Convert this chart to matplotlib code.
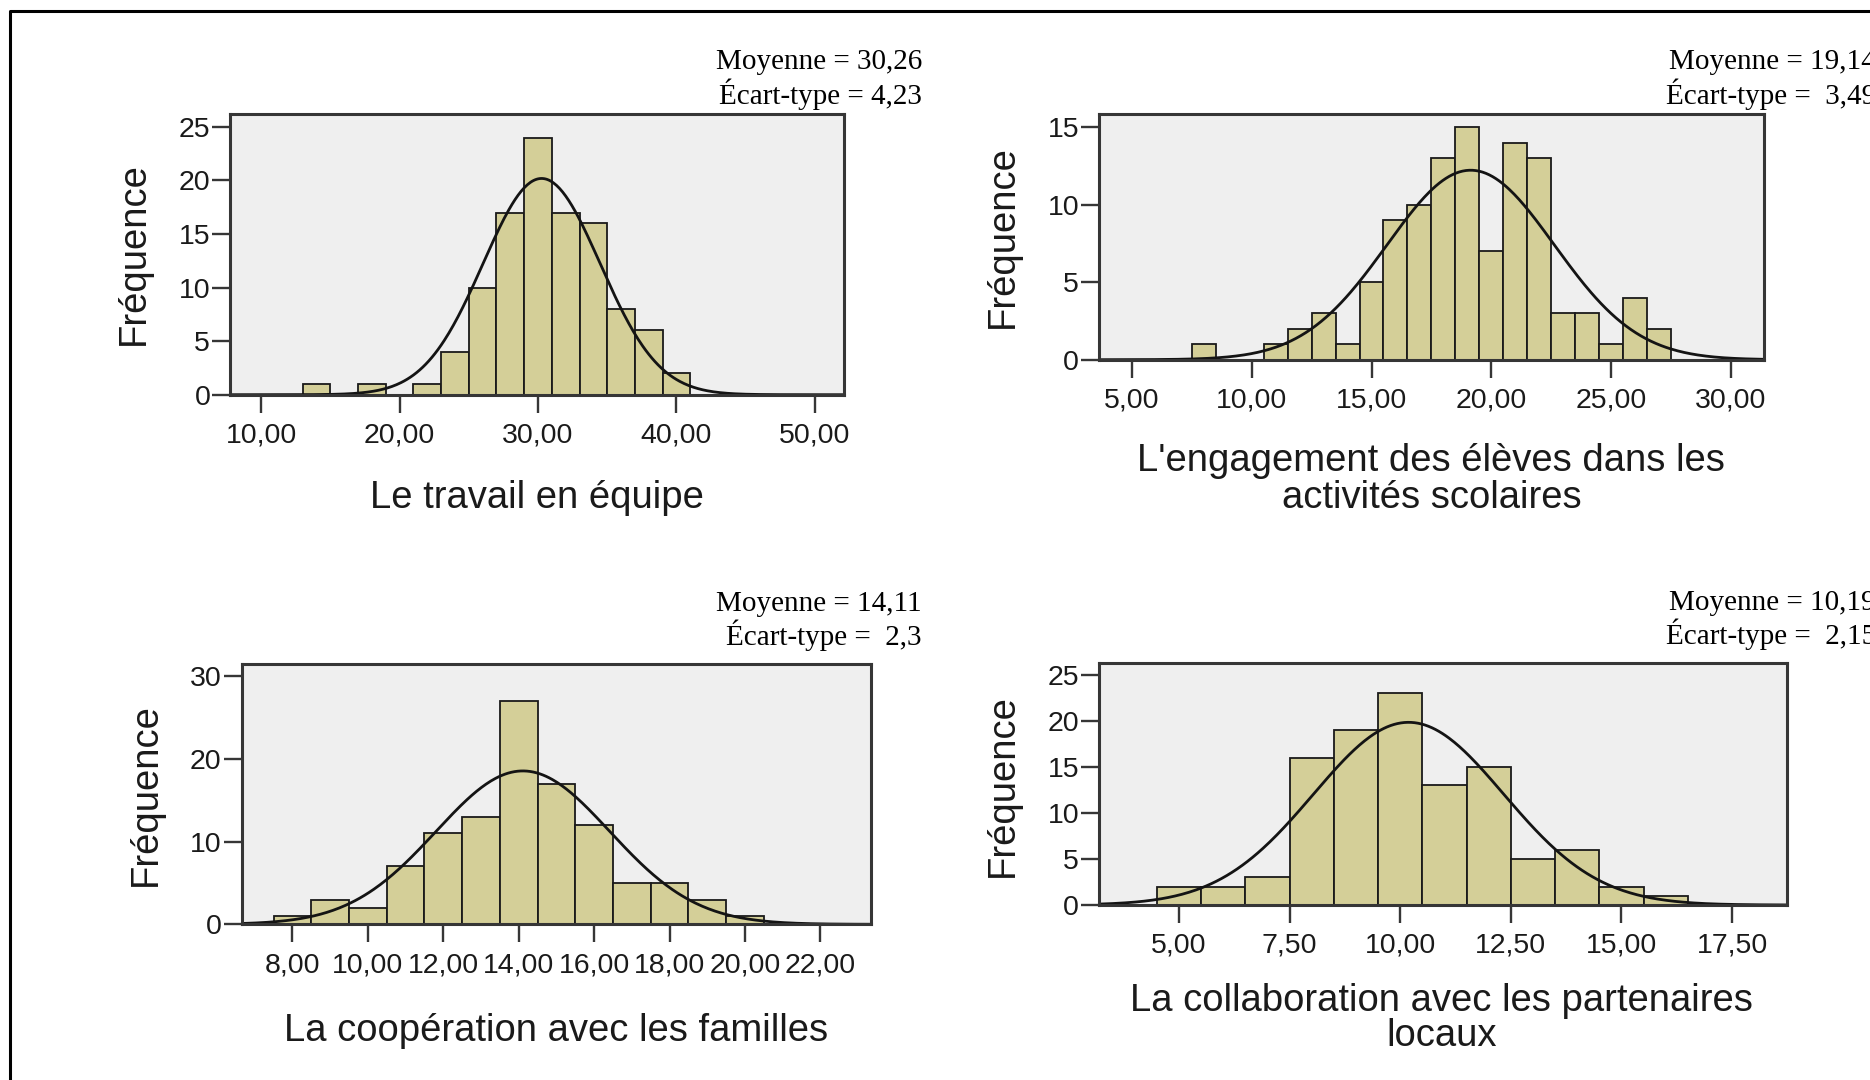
import numpy as np
import matplotlib
matplotlib.use("Agg")
import matplotlib.pyplot as plt
from matplotlib.lines import Line2D

plt.rcParams['font.family'] = ['Liberation Sans', 'DejaVu Sans']

W, H = 1870, 1080

# --- data (n = 107 each) ---
n_obs = 107

travail_centers = [14, 18, 22, 24, 26, 28, 30, 32, 34, 36, 38, 40]
travail_counts = [1, 1, 1, 4, 10, 17, 24, 17, 16, 8, 6, 2]
travail_width = 2
travail_mean, travail_sd = 30.26, 4.23

engagement_centers = [8, 11, 12, 13, 14, 15, 16, 17, 18, 19, 20, 21, 22, 23, 24, 25, 26, 27]
engagement_counts = [1, 1, 2, 3, 1, 5, 9, 10, 13, 15, 7, 14, 13, 3, 3, 1, 4, 2]
engagement_width = 1
engagement_mean, engagement_sd = 19.14, 3.49

familles_centers = [8, 9, 10, 11, 12, 13, 14, 15, 16, 17, 18, 19, 20]
familles_counts = [1, 3, 2, 7, 11, 13, 27, 17, 12, 5, 5, 3, 1]
familles_width = 1
familles_mean, familles_sd = 14.11, 2.3

partenaires_centers = [5, 6, 7, 8, 9, 10, 11, 12, 13, 14, 15, 16]
partenaires_counts = [2, 2, 3, 16, 19, 23, 13, 15, 5, 6, 2, 1]
partenaires_width = 1
partenaires_mean, partenaires_sd = 10.19, 2.15

travail_xticks = [10, 20, 30, 40, 50]
engagement_xticks = [5, 10, 15, 20, 25, 30]
familles_xticks = [8, 10, 12, 14, 16, 18, 20, 22]
partenaires_xticks = [5, 7.5, 10, 12.5, 15, 17.5]

travail_yticks = [0, 5, 10, 15, 20, 25]
engagement_yticks = [0, 5, 10, 15]
familles_yticks = [0, 10, 20, 30]
partenaires_yticks = [0, 5, 10, 15, 20, 25]

stats_labels = [("Moyenne = 30,26", "Écart-type = 4,23"),
                ("Moyenne = 19,14", "Écart-type =  3,49"),
                ("Moyenne = 14,11", "Écart-type =  2,3"),
                ("Moyenne = 10,19", "Écart-type =  2,15")]

BAR = "#D4CF98"
BG = "#EFEFEF"
FRAME = "#363636"


def fx(x):
    return x / W


def fy(y):
    return 1 - y / H


def draw_hist(fig, rect, centers, counts, width, mean, sd, xlim, ylim, xticks, yticks):
    x0, x1, top, bot = rect
    ax = fig.add_axes([fx(x0), fy(bot), (x1 - x0) / W, (bot - top) / H])
    ax.set_facecolor(BG)
    ax.bar(centers, counts, width=width, color=BAR, edgecolor="#1a1a1a", linewidth=1.3)
    # normal curve from the mean and sd printed on the chart
    xs = np.linspace(xlim[0], xlim[1], 400)
    curve = n_obs * width * np.exp(-0.5 * ((xs - mean) / sd) ** 2) / (sd * np.sqrt(2 * np.pi))
    ax.plot(xs, curve, color="#141414", linewidth=2.0)
    ax.set_xlim(xlim)
    ax.set_ylim(ylim)
    ax.set_xticks(xticks)
    ax.set_xticklabels([f"{v:.2f}".replace(".", ",") for v in xticks])
    ax.set_yticks(yticks)
    ax.set_yticklabels([str(v) for v in yticks])
    for s in ax.spines.values():
        s.set_color(FRAME)
        s.set_linewidth(2.2)
    ax.tick_params(direction="out", length=13, width=1.7, color=FRAME, labelsize=20.5,
                   labelcolor="#1a1a1a")
    ax.tick_params(axis="x", pad=7)
    ax.tick_params(axis="y", pad=1.5)
    return ax


fig = plt.figure(figsize=(18.7, 10.8), dpi=100)

draw_hist(fig, (230.4, 844.2, 114, 394.7), travail_centers, travail_counts, travail_width,
          travail_mean, travail_sd, (7.77, 52.13), (0, 26.2), travail_xticks, travail_yticks)
draw_hist(fig, (1099.2, 1764.3, 114, 359.7), engagement_centers, engagement_counts, engagement_width,
          engagement_mean, engagement_sd, (3.63, 31.4), (0, 15.86), engagement_xticks, engagement_yticks)
draw_hist(fig, (241.5, 871, 664, 924.3), familles_centers, familles_counts, familles_width,
          familles_mean, familles_sd, (6.65, 23.34), (0, 31.5), familles_xticks, familles_yticks)
draw_hist(fig, (1099.2, 1787, 663.3, 905), partenaires_centers, partenaires_counts, partenaires_width,
          partenaires_mean, partenaires_sd, (3.2, 18.74), (0, 26.27), partenaires_xticks, partenaires_yticks)

# x labels
lab = dict(fontsize=27.5, color="#1a1a1a", ha="center", va="baseline")
fig.text(fx(537), fy(508), "Le travail en équipe", **lab)
fig.text(fx(1431), fy(471), "L'engagement des élèves dans les", **lab)
fig.text(fx(1432), fy(508), "activités scolaires", **lab)
fig.text(fx(556), fy(1041), "La coopération avec les familles", **lab)
fig.text(fx(1441), fy(1011), "La collaboration avec les partenaires", **lab)
fig.text(fx(1442), fy(1046), "locaux", **lab)

# y labels
for x, y in [(134, 254), (1003, 237), (146, 795), (1003, 786)]:
    fig.text(fx(x), fy(y), "Fréquence", rotation=90, fontsize=27.5, color="#1a1a1a",
             ha="center", va="center")

# mean / sd annotations (the right-hand ones run past the edge, as in the source)
serif = dict(fontsize=21, family="Liberation Serif", color="black", ha="right", va="baseline")
for (xr, y1, y2), (l1, l2) in zip([(922, 69, 104), (1876, 69, 104), (922, 611, 645), (1876, 610, 644)],
                                  stats_labels):
    fig.text(fx(xr), fy(y1), l1, **serif)
    fig.text(fx(xr), fy(y2), l2, **serif)

# outer frame (left and top edges only)
fig.add_artist(Line2D([fx(10), fx(10), 1.0], [0.0, fy(11), fy(11)], color="black", linewidth=2.2))

plt.savefig("out.png", dpi=100)
